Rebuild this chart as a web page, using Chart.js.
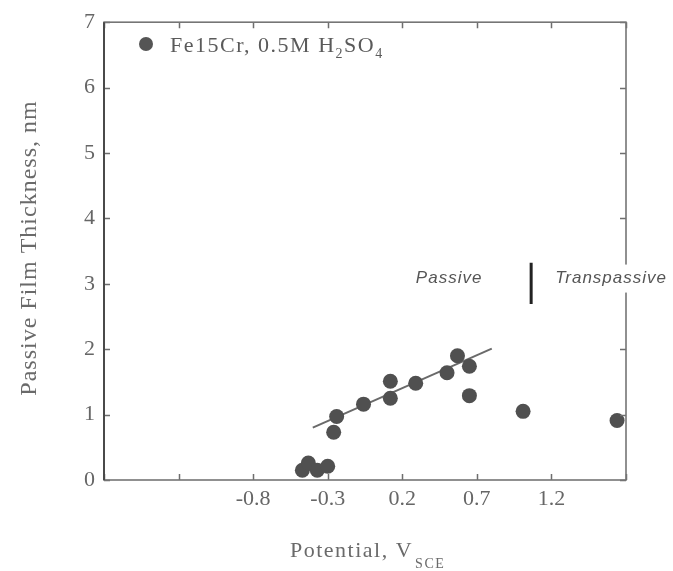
<!DOCTYPE html>
<html lang="en">
<head>
  <meta charset="UTF-8">
  <title>Passive Film Thickness vs Potential</title>
  <script src="https://cdn.jsdelivr.net/npm/chart.js"></script>
  <style>
    html, body { margin: 0; padding: 0; background: #ffffff; }
    canvas { display: block; }
  </style>
</head>
<body>
<canvas id="chart" width="673" height="571"></canvas>

<script>
  // measured passive film thickness, Fe15Cr in 0.5M H2SO4
  const potential = [-0.47, -0.43, -0.37, -0.30, -0.26, -0.24, -0.06, 0.12, 0.12, 0.29, 0.50, 0.57, 0.65, 0.65, 1.01, 1.64];
  const thickness = [0.15, 0.26, 0.15, 0.21, 0.73, 0.97, 1.16, 1.25, 1.51, 1.48, 1.64, 1.90, 1.74, 1.29, 1.05, 0.91];

  // linear fit over the passive range
  const fitPotential = [-0.40, 0.80];
  const fitThickness = [0.80, 2.01];

  // passive / transpassive boundary bar
  const boundaryPotential = [1.064, 1.064];
  const boundaryThickness = [2.69, 3.32];

  // axis ticks
  const xLabelled = [-0.8, -0.3, 0.2, 0.7, 1.2];
  const yTickLabels = [0, 1, 2, 3, 4, 5, 6, 7];

  // region labels (data coords)
  const regionLabels = [
    { text: 'Passive', x: 0.514, y: 3.08, align: 'center' },
    { text: 'Transpassive', x: 1.225, y: 3.08, align: 'left' }
  ];

  const toPoints = (xs, ys) => xs.map((v, i) => ({ x: v, y: ys[i] }));

  const serif = '"Liberation Serif", "Times New Roman", serif';
  const sans = '"Liberation Sans", Arial, sans-serif';

  // frame, inward ticks, legend, titles and region labels
  const decor = {
    id: 'decor',
    afterDraw(chart) {
      const { ctx, chartArea: a, scales: { x, y } } = chart;
      ctx.save();

      // inward tick marks on all four sides
      ctx.strokeStyle = '#6e6e6e';
      ctx.lineWidth = 1.5;
      ctx.beginPath();
      x.ticks.forEach(t => {
        const px = Math.round(x.getPixelForValue(t.value)) + 0.5;
        ctx.moveTo(px, a.bottom); ctx.lineTo(px, a.bottom - 6);
        ctx.moveTo(px, a.top); ctx.lineTo(px, a.top + 6);
      });
      y.ticks.forEach(t => {
        const py = Math.round(y.getPixelForValue(t.value)) + 0.5;
        ctx.moveTo(a.left, py); ctx.lineTo(a.left + 6, py);
        ctx.moveTo(a.right, py); ctx.lineTo(a.right - 6, py);
      });
      ctx.stroke();

      // frame
      ctx.strokeStyle = '#757575';
      ctx.lineWidth = 1.6;
      ctx.strokeRect(a.left, a.top, a.right - a.left, a.bottom - a.top);
      ctx.strokeStyle = '#4a4a4a';
      ctx.lineWidth = 2;
      ctx.beginPath();
      ctx.moveTo(a.left, a.top); ctx.lineTo(a.left, a.bottom);
      ctx.stroke();

      // legend
      ctx.fillStyle = '#555555';
      ctx.beginPath();
      ctx.arc(146, 44, 7, 0, Math.PI * 2);
      ctx.fill();
      ctx.fillStyle = '#5a5a5a';
      ctx.textBaseline = 'alphabetic';
      ctx.textAlign = 'left';
      ctx.letterSpacing = '1.5px';
      let cx = 170;
      const legendParts = [['Fe15Cr, 0.5M H', 0], ['2', 1], ['SO', 0], ['4', 1]];
      legendParts.forEach(([s, sub]) => {
        ctx.font = (sub ? '14px ' : '22px ') + serif;
        ctx.fillText(s, cx, sub ? 58 : 52);
        cx += ctx.measureText(s).width;
      });

      // x title with subscript
      ctx.fillStyle = '#6a6a6a';
      ctx.font = '22px ' + serif;
      ctx.letterSpacing = '1.5px';
      const xt = 'Potential, V';
      ctx.fillText(xt, 290, 557);
      const w = ctx.measureText(xt).width;
      ctx.font = '14px ' + serif;
      ctx.fillText('SCE', 290 + w + 2, 568);

      // y title
      ctx.save();
      ctx.translate(30, 248);
      ctx.rotate(-Math.PI / 2);
      ctx.font = '24px ' + serif;
      ctx.letterSpacing = '1px';
      ctx.textAlign = 'center';
      ctx.textBaseline = 'middle';
      ctx.fillText('Passive Film Thickness, nm', 0, 0);
      ctx.restore();

      // region labels, on a white patch so the frame is knocked out behind them
      ctx.font = 'italic 17px ' + sans;
      ctx.letterSpacing = '1px';
      ctx.textBaseline = 'middle';
      regionLabels.forEach(r => {
        const px = x.getPixelForValue(r.x);
        const py = y.getPixelForValue(r.y);
        const tw = ctx.measureText(r.text).width;
        const left = r.align === 'center' ? px - tw / 2 : px;
        ctx.fillStyle = '#ffffff';
        ctx.fillRect(left - 2, py - 14, tw + 4, 28);
        ctx.fillStyle = '#555555';
        ctx.textAlign = r.align;
        ctx.fillText(r.text, px, py);
      });

      ctx.restore();
    }
  };

  const tickFont = { family: serif, size: 22 };

  new Chart(document.getElementById('chart'), {
    type: 'scatter',
    data: {
      datasets: [
        {
          label: 'Fe15Cr, 0.5M H2SO4',
          data: toPoints(potential, thickness),
          backgroundColor: '#505050',
          borderWidth: 0,
          pointRadius: 7.5,
          order: 0
        },
        {
          label: 'fit',
          data: toPoints(fitPotential, fitThickness),
          showLine: true,
          borderColor: '#6a6a6a',
          borderWidth: 2,
          pointRadius: 0,
          order: 1
        },
        {
          label: 'boundary',
          data: toPoints(boundaryPotential, boundaryThickness),
          showLine: true,
          borderColor: '#222222',
          borderWidth: 3,
          pointRadius: 0,
          order: 2
        }
      ]
    },
    options: {
      responsive: false,
      animation: false,
      layout: { padding: { top: 20, right: 47, bottom: 0, left: 0 } },
      plugins: { legend: { display: false }, tooltip: { enabled: false } },
      scales: {
        x: {
          type: 'linear',
          min: -1.8,
          max: 1.7,
          grid: { display: false, drawTicks: false },
          border: { display: false },
          ticks: {
            stepSize: 0.5,
            padding: 6,
            color: '#666666',
            font: tickFont,
            maxRotation: 0,
            autoSkip: false,
            callback: v => xLabelled.some(l => Math.abs(l - v) < 1e-6) ? String(v) : ''
          },
          afterFit: s => { s.height = 91; }
        },
        y: {
          min: 0,
          max: 7,
          grid: { display: false, drawTicks: false },
          border: { display: false },
          ticks: {
            stepSize: 1,
            padding: 9,
            color: '#666666',
            font: tickFont,
            callback: v => yTickLabels.includes(v) ? String(v) : ''
          },
          afterFit: s => { s.width = 104; }
        }
      }
    },
    plugins: [decor]
  });
</script>
</body>
</html>
